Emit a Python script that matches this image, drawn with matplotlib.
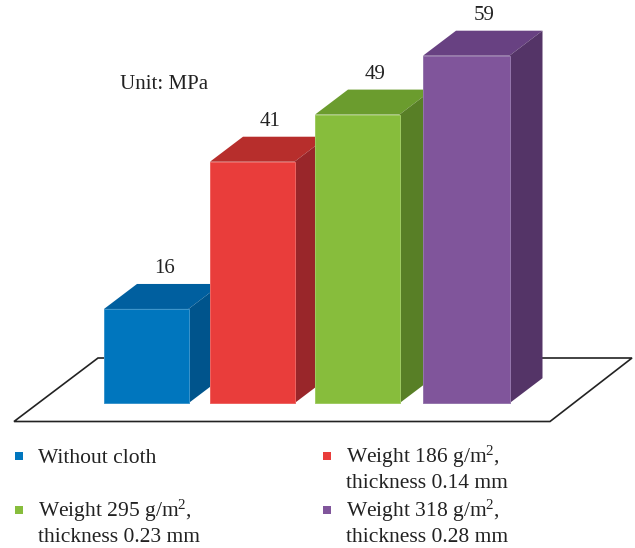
import matplotlib
matplotlib.use('Agg')
import matplotlib.pyplot as plt
from matplotlib.patches import Polygon

plt.rcParams['font.family'] = ['Liberation Serif', 'DejaVu Serif']
plt.rcParams['mathtext.fontset'] = 'custom'
plt.rcParams['mathtext.rm'] = 'Liberation Serif'
plt.rcParams['mathtext.default'] = 'rm'

# data
values = [16, 41, 49, 59]
labels = ['Without cloth',
          'Weight 186 g/m$^2$,\nthickness 0.14 mm',
          'Weight 295 g/m$^2$,\nthickness 0.23 mm',
          'Weight 318 g/m$^2$,\nthickness 0.28 mm']
front_colors = ['#0076be', '#e93d3b', '#87bd3c', '#80559b']
top_colors = ['#005f9f', '#b72e2c', '#6b9c2e', '#684182']
side_colors = ['#00548c', '#99262a', '#587f26', '#543467']
edge_colors = ['#3a94cc', '#ee6461', '#9fcb62', '#9577ad']

W, H = 635, 548
BASE = 403.2       # pixel row of the bar bottoms
SCALE = 5.89       # pixels per MPa
depth_x, depth_y = 33, 25 / SCALE
bar_w = 84.5


def yv(py):
    # pixel row -> axis value
    return (BASE - py) / SCALE


fig = plt.figure(figsize=(W / 100, H / 100), dpi=100)
ax = fig.add_axes([0, 0, 1, 1])
ax.set_xlim(0, W)
ax.set_ylim(yv(H), yv(0))
ax.axis('off')

# floor
floor = Polygon([(14, yv(421.5)), (550, yv(421.5)), (632, yv(358)), (98, yv(358))],
                closed=True, facecolor='white', edgecolor='#222222', lw=1.2, zorder=1)
ax.add_patch(floor)

lefts = [104, 210, 315, 423]
for i, v in enumerate(values):
    x = lefts[i]
    w = bar_w + (2 if i == 3 else 0)
    z = 2 + i
    top = Polygon([(x, v), (x + w, v), (x + w + depth_x, v + depth_y), (x + depth_x, v + depth_y)],
                  closed=True, facecolor=top_colors[i], edgecolor='none', zorder=z)
    side = Polygon([(x + w, 0), (x + w + depth_x, depth_y), (x + w + depth_x, v + depth_y), (x + w, v)],
                   closed=True, facecolor=side_colors[i], edgecolor='none', zorder=z)
    ax.add_patch(top)
    ax.add_patch(side)
    ax.bar(x, v, width=w, align='edge', color=front_colors[i], edgecolor=edge_colors[i],
           linewidth=0.7, zorder=z + 0.5)
    ax.text(x + w / 2 + 18, v + depth_y + 1.0, str(v), ha='center', va='bottom',
            fontsize=15, color='#222222', zorder=10)

ax.text(120, yv(89), 'Unit: MPa', ha='left', va='baseline', fontsize=15, color='#222222')

# legend
legend_x = [38, 346, 38, 346]
legend_y = [463, 463, 517, 517]
for i, lab in enumerate(labels):
    ax.plot(legend_x[i] - 19.5, yv(legend_y[i] - 7), marker='s', ms=5.2, color=front_colors[i],
            mew=0, ls='none')
    for k, line in enumerate(lab.split('\n')):
        ax.text(legend_x[i], yv(legend_y[i] + k * 24.5), line, ha='left', va='baseline',
                fontsize=15.5, color='#222222')

plt.savefig('out.png', dpi=100)
